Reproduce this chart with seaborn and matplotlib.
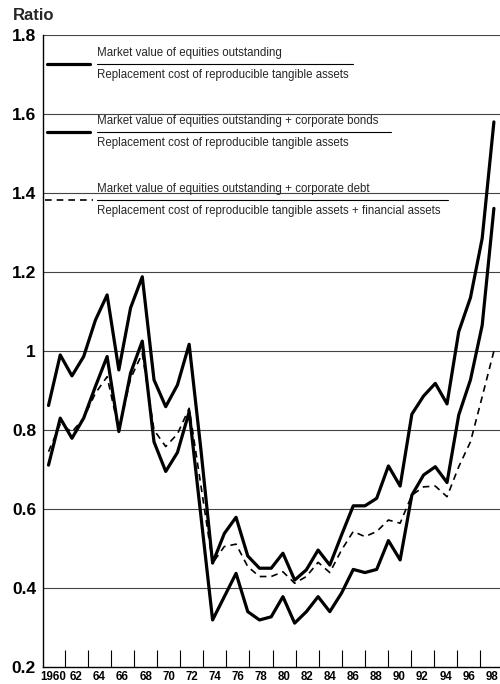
import matplotlib
matplotlib.use("Agg")

import numpy as np
import pandas as pd
import matplotlib.pyplot as plt
import seaborn as sns

# ---------------------------------------------------------------------------
# Data
# ---------------------------------------------------------------------------
years = list(range(1960, 1999))

equities_bonds = [
    0.862, 0.990, 0.937, 0.986, 1.078, 1.142, 0.952, 1.109, 1.188, 0.927,
    0.859, 0.914, 1.017, 0.751, 0.463, 0.538, 0.579, 0.481, 0.450, 0.450,
    0.488, 0.420, 0.446, 0.496, 0.458, 0.534, 0.608, 0.608, 0.627, 0.709,
    0.658, 0.840, 0.886, 0.918, 0.866, 1.049, 1.135, 1.285, 1.580,
]
equities = [
    0.711, 0.830, 0.779, 0.830, 0.910, 0.986, 0.796, 0.944, 1.025, 0.770,
    0.695, 0.743, 0.846, 0.583, 0.319, 0.378, 0.437, 0.340, 0.319, 0.327,
    0.378, 0.311, 0.340, 0.378, 0.340, 0.387, 0.447, 0.439, 0.447, 0.520,
    0.471, 0.635, 0.686, 0.707, 0.667, 0.838, 0.927, 1.065, 1.361,
]
equities_debt = [
    0.745, 0.815, 0.795, 0.830, 0.893, 0.935, 0.800, 0.930, 0.994, 0.800,
    0.758, 0.790, 0.855, 0.660, 0.463, 0.505, 0.511, 0.454, 0.429, 0.429,
    0.441, 0.412, 0.429, 0.465, 0.439, 0.496, 0.543, 0.530, 0.543, 0.572,
    0.564, 0.635, 0.656, 0.658, 0.631, 0.707, 0.770, 0.884, 1.000,
]

y_ticks = [0.2, 0.4, 0.6, 0.8, 1.0, 1.2, 1.4, 1.6, 1.8]
y_tick_labels = ["0.2", "0.4", "0.6", "0.8", "1", "1.2", "1.4", "1.6", "1.8"]
x_label_years = list(range(1960, 1999, 2))
x_minor_years = list(range(1961, 1998, 2))
x_tick_labels = ["1960"] + [f"{y % 100:02d}" for y in x_label_years[1:]]

legend_entries = [
    ("Market value of equities outstanding",
     "Replacement cost of reproducible tangible assets", "-"),
    ("Market value of equities outstanding + corporate bonds",
     "Replacement cost of reproducible tangible assets", "-"),
    ("Market value of equities outstanding + corporate debt",
     "Replacement cost of reproducible tangible assets + financial assets", "--"),
]

df = pd.DataFrame({
    "year": years,
    "equities": equities,
    "equities_bonds": equities_bonds,
    "equities_debt": equities_debt,
})


def _tick_pos(y):
    # the printed year scale sits slightly compressed against the data grid
    return 1961.4 + (y - 1961) * 0.984


# ---------------------------------------------------------------------------
# Plot
# ---------------------------------------------------------------------------
sns.set_theme(style="white")
plt.rcParams["font.family"] = ["Liberation Sans", "DejaVu Sans"]

fig = plt.figure(figsize=(5, 6.84), dpi=100)
ax = fig.add_axes([0.086, 0.0249, 0.914, 0.9239])

sns.lineplot(data=df, x="year", y="equities_debt", ax=ax, color="black",
             lw=1.2, dashes=False, linestyle=(0, (4, 3)))
sns.lineplot(data=df, x="year", y="equities", ax=ax, color="black", lw=2.3)
sns.lineplot(data=df, x="year", y="equities_bonds", ax=ax, color="black", lw=2.3)

ax.set_xlim(1959.53, 1998.52)
ax.set_ylim(0.2, 1.8)

ax.set_yticks(y_ticks)
ax.set_yticklabels(y_tick_labels, fontsize=12.5, fontweight="bold")
ax.tick_params(axis="y", length=0, pad=5, colors="black")

ax.set_xticks([_tick_pos(y) for y in x_label_years])
ax.set_xticklabels(x_tick_labels, fontsize=8.3, fontweight="bold")
ax.set_xticks([_tick_pos(y) for y in x_minor_years], minor=True)
ax.tick_params(axis="x", which="major", length=0, pad=3, colors="black")
ax.tick_params(axis="x", which="minor", direction="in", length=12,
               width=0.8, color="black", bottom=True)

ax.set_xlabel("")
ax.set_ylabel("")

for v in y_ticks[1:]:
    ax.axhline(v, color="#444444", lw=0.8, zorder=0)

for side in ["top", "right"]:
    ax.spines[side].set_visible(False)
for side in ["left", "bottom"]:
    ax.spines[side].set_color("black")
    ax.spines[side].set_linewidth(1.0)

fig.text(0.026, 0.978, "Ratio", fontsize=12, fontweight="bold", va="center")

# Legend drawn as fractions
entry_y = [0.954, 0.8465, 0.739]
rule_end = [0.678, 0.7615, 0.886]
for (num, den, ls), yy, xe in zip(legend_entries, entry_y, rule_end):
    if ls == "--":
        ax.plot([0.004, 0.11], [yy, yy], transform=ax.transAxes, color="black",
                lw=1.2, linestyle=(0, (4, 3)))
    else:
        ax.plot([0.009, 0.103], [yy, yy], transform=ax.transAxes, color="black",
                lw=2.3)
    ax.plot([0.118, xe], [yy, yy], transform=ax.transAxes, color="black", lw=0.8)
    ax.text(0.118, yy + 0.0085, num, transform=ax.transAxes, fontsize=8.3,
            va="bottom", ha="left")
    ax.text(0.118, yy - 0.0085, den, transform=ax.transAxes, fontsize=8.3,
            va="top", ha="left")

fig.savefig("out.png", dpi=100)
